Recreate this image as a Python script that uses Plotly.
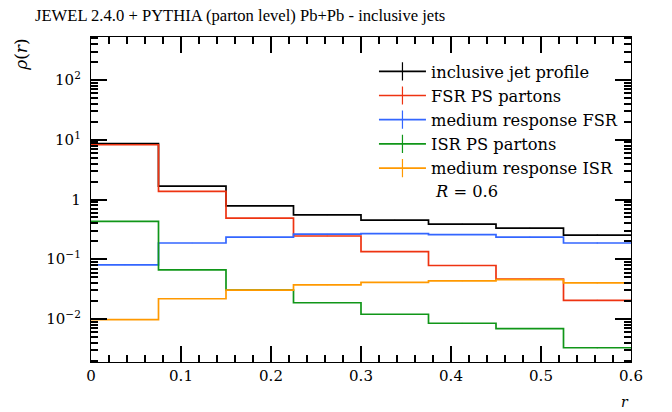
import plotly.graph_objects as go

# ---- data ----
bin_edges = [0.0, 0.075, 0.15, 0.225, 0.3, 0.375, 0.45, 0.525, 0.6]
inclusive = [8.66, 1.67, 0.785, 0.552, 0.452, 0.388, 0.332, 0.254]
fsr_ps = [8.25, 1.37, 0.488, 0.245, 0.134, 0.0785, 0.0464, 0.0205]
medium_fsr = [0.0802, 0.187, 0.235, 0.263, 0.268, 0.258, 0.235, 0.187]
isr_ps = [0.430, 0.0662, 0.0305, 0.0187, 0.0120, 0.00848, 0.0069, 0.0033]
medium_isr = [0.00978, 0.0218, 0.0305, 0.0371, 0.0409, 0.0434, 0.0457, 0.0402]
rel_err = [0.003, 0.004, 0.006, 0.008, 0.010, 0.012, 0.014, 0.02]

series_names = ["inclusive jet profile", "FSR PS partons", "medium response FSR",
                "ISR PS partons", "medium response ISR"]
series_vals = [inclusive, fsr_ps, medium_fsr, isr_ps, medium_isr]
colors = ["#000000", "#EE3311", "#3366FF", "#109618", "#FF9900"]

ytick_vals = [0.01, 0.1, 1, 10, 100]
ytick_text = ["10<sup>−2</sup>", "10<sup>−1</sup>", "1", "10<sup>1</sup>", "10<sup>2</sup>"]
y_minor_vals = [m * 10.0 ** e for e in range(-3, 3) for m in range(2, 10)]
xtick_vals = [0, 0.1, 0.2, 0.3, 0.4, 0.5, 0.6]
xtick_text = ["0", "0.1", "0.2", "0.3", "0.4", "0.5", "0.6"]
x_minor_vals = [round(i * 0.02, 2) for i in range(31) if i % 5]

SERIF = "DejaVu Serif"
centers = [(a + b) / 2 for a, b in zip(bin_edges[:-1], bin_edges[1:])]

fig = go.Figure()
for name, vals, col in zip(series_names, series_vals, colors):
    fig.add_trace(go.Scatter(
        x=bin_edges, y=vals + [vals[-1]], mode="lines", line_shape="hv",
        line=dict(color=col, width=1.7), showlegend=False, hoverinfo="skip"))
    fig.add_trace(go.Scatter(
        x=centers, y=vals, mode="markers", marker=dict(size=1, color=col, opacity=0),
        error_y=dict(type="data", array=[v * e for v, e in zip(vals, rel_err)],
                     color=col, thickness=1, width=0),
        showlegend=False, hoverinfo="skip"))
    fig.add_trace(go.Scatter(
        x=[None], y=[None], mode="lines+markers", name=name,
        line=dict(color=col, width=1.7),
        marker=dict(symbol="line-ns-open", size=13, color=col,
                    line=dict(color=col, width=1.2))))

axis_common = dict(
    ticks="inside", ticklen=16, tickwidth=1.5, tickcolor="black",
    mirror="allticks", showline=True, linecolor="black", linewidth=1.3,
    showgrid=False, zeroline=False, tickfont=dict(family=SERIF, size=15),
)

fig.update_layout(
    template="none",
    width=672, height=412,
    margin=dict(l=91, r=41, t=37, b=50),
    plot_bgcolor="white", paper_bgcolor="white",
    font=dict(family=SERIF, size=16, color="black"),
    legend=dict(x=0.524, y=0.947, xanchor="left", yanchor="top",
                bgcolor="rgba(0,0,0,0)", itemwidth=47,
                font=dict(family=SERIF, size=16.3), tracegroupgap=0),
    xaxis=dict(range=[0, 0.6], tickvals=xtick_vals, ticktext=xtick_text,
               minor=dict(ticks="inside", ticklen=7, tickwidth=1.5, tickcolor="black",
                          tickvals=x_minor_vals, showgrid=False),
               **axis_common),
    yaxis=dict(type="log", range=[-2.72, 2.72], tickvals=ytick_vals, ticktext=ytick_text,
               ticklabelstandoff=6,
               minor=dict(ticks="inside", ticklen=7, tickwidth=1.5, tickcolor="black",
                          tickvals=y_minor_vals, showgrid=False),
               **axis_common),
    annotations=[
        dict(text="JEWEL 2.4.0 + PYTHIA (parton level) Pb+Pb - inclusive jets",
             xref="paper", yref="paper", x=-0.107, y=1.031, xanchor="left",
             yanchor="bottom", showarrow=False,
             font=dict(family="Liberation Serif", size=16.6)),
        dict(text="<i>ρ</i>(<i>r</i>)", xref="paper", yref="paper", x=-0.13, y=1.0,
             xanchor="center", yanchor="top", textangle=-90, showarrow=False,
             font=dict(family=SERIF, size=17)),
        dict(text="<i>r</i>", xref="paper", yref="paper", x=1.0, y=-0.123,
             xanchor="right", yanchor="middle", showarrow=False,
             font=dict(family=SERIF, size=14)),
        dict(text="<i>R</i> = 0.6", xref="paper", yref="paper", x=0.633, y=0.526,
             xanchor="left", yanchor="middle", showarrow=False,
             font=dict(family=SERIF, size=16.3)),
    ],
)

fig.write_html("out.html", config={"displayModeBar": False},
               post_script="document.body.style.margin='0px';")
